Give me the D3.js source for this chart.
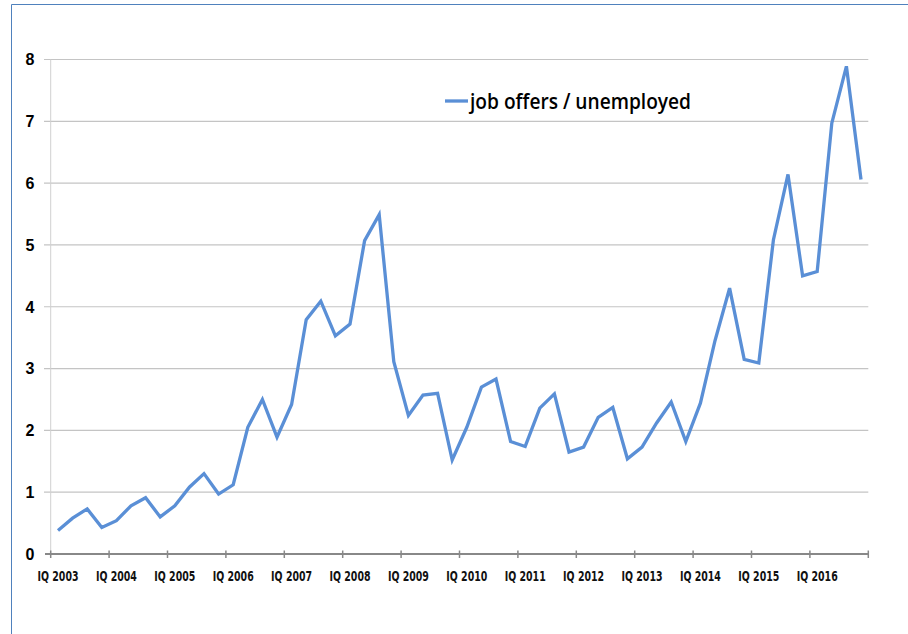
<!DOCTYPE html>
<html>
<head>
<meta charset="utf-8">
<script src="https://cdn.jsdelivr.net/npm/d3@7"></script>
<style>
  html, body { margin: 0; padding: 0; background: #fff; }
  svg { display: block; }
</style>
</head>
<body>
<svg id="chart" width="908" height="634"></svg>
<script>
// ---- data ----
const years = [2003, 2004, 2005, 2006, 2007, 2008, 2009, 2010, 2011, 2012, 2013, 2014, 2015, 2016];
const quarters = ["I", "II", "III", "IV"];
const categories = years.flatMap(y => quarters.map(q => q + "Q " + y));
const seriesName = "job offers / unemployed";
const values = [
  0.38, 0.58, 0.73, 0.43, 0.54, 0.78, 0.91, 0.60,
  0.78, 1.08, 1.30, 0.97, 1.12, 2.05, 2.50, 1.89,
  2.42, 3.79, 4.09, 3.53, 3.72, 5.07, 5.49, 3.11,
  2.24, 2.57, 2.60, 1.52, 2.05, 2.70, 2.83, 1.82,
  1.74, 2.36, 2.59, 1.65, 1.73, 2.21, 2.37, 1.54,
  1.73, 2.12, 2.46, 1.82, 2.44, 3.45, 4.30, 3.15,
  3.09, 5.08, 6.14, 4.50, 4.57, 6.97, 7.89, 6.06
];
const yTicks = [0, 1, 2, 3, 4, 5, 6, 7, 8];
const xTickLabels = years.map(y => "IQ " + y);

// ---- layout ----
const svg = d3.select("#chart");
const plotLeft = 50.7, plotRight = 868.3, plotTop = 59.5, plotBottom = 554;

// frame
svg.append("path")
  .attr("d", "M11.5,634 L11.5,4.5 L908,4.5")
  .attr("fill", "none").attr("stroke", "#4f81bd").attr("stroke-width", 1);

const x = d3.scaleBand().domain(categories).range([plotLeft, plotRight]).padding(0);
const y = d3.scaleLinear().domain([0, 8]).range([plotBottom, plotTop]);

// gridlines
svg.append("g").selectAll("line").data(yTicks.filter(d => d > 0)).join("line")
  .attr("x1", 44).attr("x2", plotRight)
  .attr("y1", d => y(d)).attr("y2", d => y(d))
  .attr("stroke", "#c4c4c4").attr("stroke-width", 1.2);

// vertical axis line
svg.append("line")
  .attr("x1", plotLeft).attr("x2", plotLeft).attr("y1", y(8)).attr("y2", plotBottom)
  .attr("stroke", "#d0d0d0").attr("stroke-width", 1);

// y labels
svg.append("g").selectAll("text").data(yTicks).join("text")
  .attr("x", 30).attr("y", d => y(d))
  .attr("dy", "0.36em")
  .attr("text-anchor", "middle")
  .attr("font-family", "'Liberation Sans', Arial, sans-serif")
  .attr("font-weight", "bold")
  .attr("font-size", 16)
  .attr("fill", "#000")
  .text(d => d);

// x axis
const tickCats = categories.filter((c, i) => i % 4 === 0);
svg.append("line")
  .attr("x1", 45).attr("x2", plotRight).attr("y1", plotBottom).attr("y2", plotBottom)
  .attr("stroke", "#888").attr("stroke-width", 2);

// tick marks at category boundaries (every 4 quarters) plus the end
const boundaryIdx = d3.range(0, categories.length + 1, 4);
svg.append("g").selectAll("line").data(boundaryIdx).join("line")
  .attr("x1", i => i < categories.length ? x(categories[i]) : plotRight)
  .attr("x2", i => i < categories.length ? x(categories[i]) : plotRight)
  .attr("y1", plotBottom - 3.5).attr("y2", plotBottom + 4)
  .attr("stroke", "#888").attr("stroke-width", 1.5);

// x tick labels
svg.append("g").selectAll("text").data(tickCats).join("text")
  .attr("x", d => x(d) + x.bandwidth() / 2)
  .attr("y", 580.5)
  .attr("text-anchor", "middle")
  .attr("font-family", "'Liberation Sans Narrow', 'DejaVu Sans Condensed', Arial, sans-serif")
  .attr("font-weight", "bold")
  .attr("font-size", 14)
  .attr("fill", "#111")
  .attr("textLength", 41)
  .attr("lengthAdjust", "spacingAndGlyphs")
  .text((d, i) => xTickLabels[i]);

// line
const line = d3.line()
  .x((d, i) => x(categories[i]) + x.bandwidth() / 2)
  .y(d => y(d));
svg.append("path")
  .datum(values)
  .attr("d", line)
  .attr("fill", "none")
  .attr("stroke", "#5a8fd6")
  .attr("stroke-width", 3.3)
  .attr("stroke-linejoin", "miter");

// legend
svg.append("line")
  .attr("x1", 445).attr("x2", 468).attr("y1", 101).attr("y2", 101)
  .attr("stroke", "#5a8fd6").attr("stroke-width", 3.3);
svg.append("text")
  .attr("x", 470).attr("y", 108.5)
  .attr("font-family", "'Open Sans', 'Liberation Sans', sans-serif")
  .attr("font-weight", 600)
  .attr("font-size", 21)
  .attr("fill", "#000")
  .attr("textLength", 221)
  .attr("lengthAdjust", "spacingAndGlyphs")
  .text(seriesName);
</script>
</body>
</html>
